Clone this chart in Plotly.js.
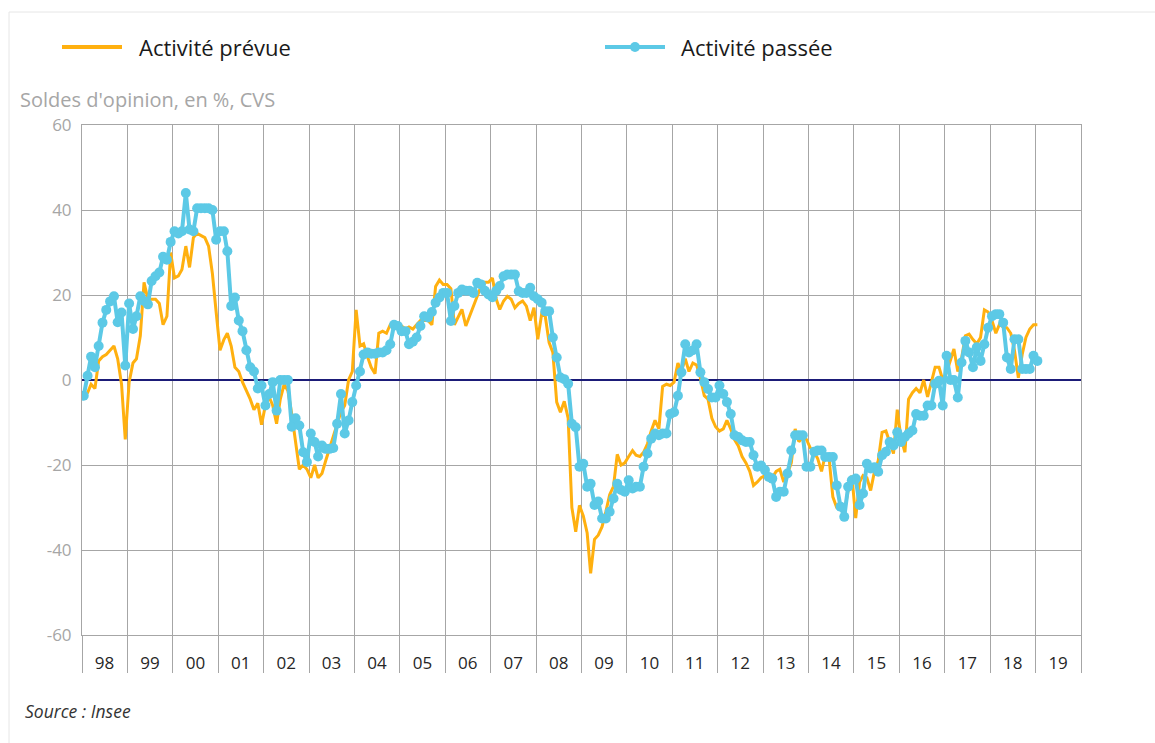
<!DOCTYPE html>
<html><head><meta charset="utf-8">
<script src="https://cdn.plot.ly/plotly-3.0.1.min.js"></script>
<style>html,body{margin:0;padding:0;background:#fff;} #chart{width:1155px;height:743px;}</style>
</head><body><div id="chart"></div>
<script>
const startYear = 1998;
const yearLabels = ['98','99','00','01','02','03','04','05','06','07','08','09','10','11','12','13','14','15','16','17','18','19'];
const yTicks = [-60, -40, -20, 0, 20, 40, 60];

// Activité prévue (solde d'opinion, %, CVS) – monthly, Jan 1998 .. Jan 2019
const prevue = [
  -4, -3, -1, -2, 4.5, 5.5, 6, 7, 8, 5, -1, -14,
  -0.5, 4, 5, 10.4, 23, 19, 19, 19, 18, 13, 15, 30,
  24, 24.5, 26, 31.5, 26.5, 33.5, 34.5, 34, 33.5, 31.5, 25, 16,
  7, 9.5, 11, 8, 3, 2, -0.5, -2.5, -4.5, -7, -5.5, -10.5,
  -6, -4, -6, -10.3, -4.5, -1, -2.5, -8, -15, -21, -20, -21,
  -23, -20, -23, -22, -19, -16, -13, -10, -7.5, -6, 0, 2,
  16.5, 8, 8.5, 5.5, 3, 1.5, 11, 11.5, 11, 13, 13.5, 12,
  12.7, 12, 12.5, 12, 13, 14, 14, 14, 13, 22, 23.5, 22.5,
  22.5, 21.5, 13, 15, 16.6, 12.7, 15, 17.5, 20, 22, 23, 23,
  24, 19, 16.6, 18.6, 19.7, 19, 17, 18, 18.6, 17.4, 14, 17,
  9.6, 15.5, 15, 8.8, 6.5, -5.2, -7.6, -5, -9, -30, -35.7, -29.5,
  -32, -36, -45.5, -37.5, -36.5, -34.5, -31, -27, -25, -17.5, -20, -19.5,
  -18, -16.6, -17.7, -18, -17, -15, -12, -9.5, -11.5, -1.5, -1, -1.3,
  -0.5, 4, 2, 5, 2, 4, 3.5, 0.5, -3.7, -4.5, -9, -11,
  -12, -11.5, -9.5, -11.5, -14, -15.5, -18, -19.5, -21.5, -24.8, -24, -23,
  -22.5, -23.5, -23, -21.5, -21, -24, -22, -19.5, -11.5, -14.5, -13.5, -14,
  -16, -17, -18.5, -21.5, -17.7, -18.5, -27.5, -30, -30.5, -31, -26, -22.5,
  -32.5, -24, -22.5, -23, -26, -21.5, -19, -12.3, -12, -14.5, -17.3, -7,
  -13.8, -17, -4.5, -3, -2, -3, 0, -4, -0.5, 3, 3, 0,
  1.8, 5, 7.3, 2, 5, 10.4, 10.8, 9.5, 8.5, 10, 16.5, 16,
  14, 11, 13, 12.5, 12.3, 11, 7, 0.5, 6, 10, 12, 13,
  13
];

// Activité passée (solde d'opinion, %, CVS) – monthly, Jan 1998 .. Jan 2019
const passee = [
  -3.7, 1, 5.5, 3, 8, 13.5, 16.5, 18.5, 19.7, 13.6, 15.9, 3.4,
  18, 12, 15, 19.7, 18.6, 17.8, 23.3, 24.4, 25.3, 29, 28.3, 32.5,
  35, 34.5, 35, 44, 35.4, 35, 40.4, 40.4, 40.4, 40.4, 40, 33,
  35, 35, 30.3, 17.4, 19.4, 14, 11.5, 7, 3, 2, -2, -1.3,
  -6, -3.3, -0.5, -7.2, 0, 0, 0, -11, -9, -10.7, -17, -19.3,
  -12.6, -14.6, -18, -15.4, -16.2, -16.2, -16, -10.3, -3.3, -12.6, -9.5, -5.2,
  -1.3, 2, 6, 6.5, 6.2, 6.2, 6.5, 6.5, 7, 8.4, 13, 12.7,
  11.5, 11.5, 8.4, 9, 10, 12.7, 15, 14.7, 16, 18.2, 19.4, 20.5,
  20.5, 13.9, 17.4, 20.5, 21.3, 21, 21, 20.5, 22.9, 22.5, 21, 20.1,
  19.5, 21, 22.1, 24.4, 24.8, 24.8, 24.8, 20.9, 20.5, 20.5, 21.7, 19.7,
  19, 18.2, 16.2, 16.2, 10, 5.3, 0.6, 0.2, -0.9, -10.3, -11.1, -20.4,
  -19.7, -25.1, -24.4, -29.4, -28.6, -32.6, -32.6, -31, -27.9, -24.4, -25.9, -26.3,
  -23.6, -25.5, -25.1, -25.1, -20.4, -17.3, -13.8, -12.6, -13, -12.6, -12.6, -8,
  -7.6, -3.7, 1.8, 8.4, 6.5, 7, 8.4, 1.8, -0.5, -2.1, -4.1, -4.1,
  -1.3, -3.3, -5.2, -8, -13, -13.4, -14.2, -14.6, -14.6, -17.7, -20.4, -20.1,
  -21.2, -22.8, -23.2, -27.5, -26.3, -26.3, -22, -16.6, -13, -13, -13, -20.4,
  -20.4, -16.9, -16.6, -16.6, -18.1, -18.1, -18.1, -24.8, -29.8, -32.2, -25.1, -23.6,
  -23.2, -29.4, -26.7, -19.7, -20.8, -20.5, -21.6, -17.7, -16.9, -14.6, -15.4, -12.3,
  -14.6, -13.4, -12.6, -11.9, -8, -8.4, -8.4, -6, -6, -0.9, -0.2, -6,
  5.7, 0, 0, -4.1, 4.1, 9.2, 6.5, 3, 7.7, 4.5, 8.4, 12.3,
  15, 15.5, 15.5, 13.5, 5.3, 2.6, 9.6, 9.6, 2.6, 2.6, 2.6, 5.7,
  4.5
];

const seriesNames = ['Activité prévue', 'Activité passée'];
const orange = '#FFB00F';
const blue = '#5CC9E6';

function monthDate(i) {
  const y = startYear + Math.floor(i / 12);
  const m = (i % 12) + 1;
  return y + '-' + String(m).padStart(2, '0') + '-15';
}
const dates = prevue.map((_, i) => monthDate(i));
const tickvals = yearLabels.map((_, i) => (startYear + i) + '-07-01');
const endDate = (startYear + yearLabels.length) + '-01-01';
const yTickText = yTicks.map(v => String(v));

const traces = [
  { x: dates, y: prevue, type: 'scatter', mode: 'lines', name: seriesNames[0],
    line: { color: orange, width: 3 }, showlegend: false, hoverinfo: 'skip' },
  { x: dates, y: passee, type: 'scatter', mode: 'lines+markers', name: seriesNames[1],
    line: { color: blue, width: 4 }, marker: { color: blue, size: 10 },
    showlegend: false, hoverinfo: 'skip' }
];

// pixel -> paper helpers (plot area 82..1081 x, 125..635 y)
const L = 82, T = 125, W = 999, H = 510;
const px = v => (v - L) / W;
const py = v => (T + H - v) / H;

const grid = '#a6a6a6';
const layout = {
  width: 1155, height: 743,
  margin: { l: 82, r: 74, t: 125, b: 108 },
  paper_bgcolor: '#ffffff', plot_bgcolor: '#ffffff',
  font: { family: 'Open Sans, sans-serif', color: '#a6a6a6' },
  xaxis: {
    type: 'date', range: [startYear + '-01-01', endDate],
    tickmode: 'array', tickvals: tickvals, ticktext: yearLabels,
    ticks: 'outside', ticklen: 13, tickcolor: 'rgba(0,0,0,0)',
    tickfont: { size: 17, color: '#262626' },
    showgrid: false, zeroline: false,
    showline: true, linecolor: grid, linewidth: 1, mirror: true,
    minor: { tick0: startYear + '-01-01', dtick: 'M12', ticks: 'outside', ticklen: 37,
             tickcolor: grid, tickwidth: 1, showgrid: true, gridcolor: grid, gridwidth: 1 }
  },
  yaxis: {
    range: [-60, 60], tickmode: 'array', tickvals: yTicks, ticktext: yTickText,
    showgrid: true, gridcolor: grid, gridwidth: 1,
    zeroline: true, zerolinecolor: '#1b1b78', zerolinewidth: 2,
    showline: true, linecolor: grid, linewidth: 1, mirror: true,
    ticks: 'outside', ticklen: 6, tickcolor: 'rgba(0,0,0,0)',
    tickfont: { size: 17, color: '#a6a6a6' }
  },
  yaxis2: {
    overlaying: 'y', side: 'right', range: [-60, 60],
    tickmode: 'array', tickvals: yTicks, ticktext: yTickText,
    showgrid: false, zeroline: false, showline: false,
    ticks: 'outside', ticklen: 6, tickcolor: 'rgba(0,0,0,0)',
    tickfont: { size: 17, color: '#a6a6a6' }
  },
  shapes: [
    { type: 'line', xref: 'paper', yref: 'paper', x0: px(9), x1: px(9), y0: py(743), y1: py(12),
      line: { color: '#e6e6e6', width: 1 } },
    { type: 'line', xref: 'paper', yref: 'paper', x0: px(9), x1: px(1155), y0: py(12), y1: py(12),
      line: { color: '#e6e6e6', width: 1 } },
    { type: 'line', xref: 'paper', yref: 'paper', x0: px(62), x1: px(122), y0: py(47), y1: py(47),
      line: { color: orange, width: 4 } },
    { type: 'line', xref: 'paper', yref: 'paper', x0: px(605), x1: px(665), y0: py(47), y1: py(47),
      line: { color: blue, width: 4 } },
    { type: 'circle', xref: 'paper', yref: 'paper', x0: px(630), x1: px(640), y0: py(52), y1: py(42),
      fillcolor: blue, line: { width: 0 } }
  ],
  annotations: [
    { text: seriesNames[0], xref: 'paper', yref: 'paper', x: px(137), y: py(47),
      xanchor: 'left', yanchor: 'middle', showarrow: false, font: { size: 22, color: '#1a1a1a' } },
    { text: seriesNames[1], xref: 'paper', yref: 'paper', x: px(679), y: py(47),
      xanchor: 'left', yanchor: 'middle', showarrow: false, font: { size: 22, color: '#1a1a1a' } },
    { text: "Soldes d'opinion, en %, CVS", xref: 'paper', yref: 'paper', x: px(18), y: py(100),
      xanchor: 'left', yanchor: 'middle', showarrow: false, font: { size: 20, color: '#a6a6a6' } },
    { text: '<i>Source : Insee</i>', xref: 'paper', yref: 'paper', x: px(23), y: py(711),
      xanchor: 'left', yanchor: 'middle', showarrow: false, font: { size: 17.5, color: '#333333' } }
  ]
};

Plotly.newPlot('chart', traces, layout, { displayModeBar: false, staticPlot: true });
</script>
</body></html>
